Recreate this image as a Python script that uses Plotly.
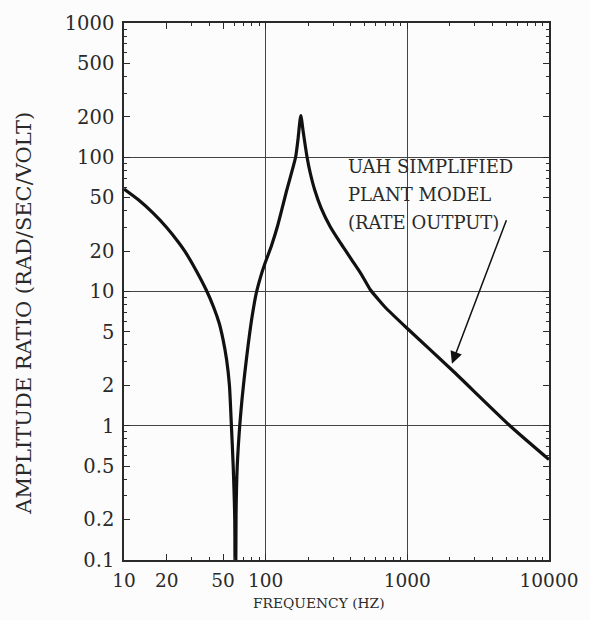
import math
import plotly.graph_objects as go

# ---- data (frequency in Hz, amplitude ratio) ----
freq_hz = [10, 12.7, 16, 20, 24.3, 27, 32, 38, 43, 47, 50, 53, 55.5, 57.3, 59,
           60.5, 61, 61.8, 63, 65.6, 68, 71, 75, 80, 86, 92, 98.5, 110, 121.6,
           141, 162.6, 169, 177, 184.5, 196, 206, 222, 246, 285, 330, 365, 405,
           470, 548, 620, 700, 1000, 2065, 5300, 10000]
amplitude = [58, 48, 38.5, 30, 23.2, 19.8, 14.6, 10.3, 7.6, 5.8, 4.4, 3.1, 2.0, 1.0, 0.5,
             0.2, 0.01, 0.22, 0.5, 1.0, 1.55, 2.4, 3.9, 6.4, 9.8, 12.8, 16, 22, 31,
             57, 100, 135, 204, 152, 100, 77, 57, 42, 30.5, 23.8, 20.3, 17.2,
             13.6, 10.3, 8.8, 7.6, 5.3, 2.6, 1.0, 0.56]

x_tick_vals = [10, 20, 50, 100, 1000, 10000]
x_tick_text = ["10", "20", "50", "100", "1000", "10000"]
y_tick_vals = [1000, 500, 200, 100, 50, 20, 10, 5, 2, 1, 0.5, 0.2, 0.1]
y_tick_text = ["1000", "500", "200", "100", "50", "20", "10", "5", "2", "1", "0.5", "0.2", "0.1"]
x_grid_vals = [100, 1000]
y_grid_vals = [100, 10, 1]

note_lines = ["UAH SIMPLIFIED", "PLANT MODEL", "(RATE OUTPUT)"]
arrow_point = (2065, 2.9)

# minor (unlabelled) tick positions: every integer multiple inside each decade
def minor_positions(lo_exp, hi_exp, labelled):
    out = []
    for e in range(lo_exp, hi_exp):
        for m in range(1, 10):
            v = m * 10 ** e
            if all(abs(v - t) > 1e-9 * max(1, t) for t in labelled):
                out.append(v)
    return out

x_minor = minor_positions(1, 4, x_tick_vals)
y_minor = minor_positions(-1, 3, y_tick_vals)

FONT = "DejaVu Serif"
INK = "#2a2a2a"

# plot-area geometry in pixels (for placing free text)
L, R, T, B = 124, 556, 14, 560
def px_to_paper(px, py):
    return (px - L) / (R - L), (B - py) / (B - T)

fig = go.Figure()
fig.add_trace(go.Scatter(x=freq_hz, y=amplitude, mode="lines",
                         line=dict(color="#111111", width=3.2, shape="spline", smoothing=0.6),
                         hoverinfo="skip", showlegend=False))
# empty trace so the overlaid grid axes get created
fig.add_trace(go.Scatter(x=[], y=[], xaxis="x2", yaxis="y2", mode="lines",
                         hoverinfo="skip", showlegend=False))

fig.update_layout(
    width=590, height=620,
    margin=dict(l=L, r=590 - R, t=T, b=620 - B),
    paper_bgcolor="#fcfcfc", plot_bgcolor="#fcfcfc",
    showlegend=False,
    xaxis=dict(type="log", range=[1, 4], tickmode="array",
               tickvals=x_tick_vals, ticktext=x_tick_text,
               ticks="inside", ticklen=6, tickwidth=1.3, tickcolor=INK,
               showline=True, linecolor=INK, linewidth=1.6, mirror="ticks",
               showgrid=False, zeroline=False,
               tickfont=dict(family=FONT, size=18.5, color=INK),
               ticklabelstandoff=3,
               minor=dict(tickmode="array", tickvals=x_minor, ticks="inside",
                          ticklen=3, tickwidth=1.2, tickcolor=INK, showgrid=False)),
    yaxis=dict(type="log", range=[-1, 3], tickmode="array",
               tickvals=y_tick_vals, ticktext=y_tick_text,
               ticks="inside", ticklen=6, tickwidth=1.3, tickcolor=INK,
               showline=True, linecolor=INK, linewidth=1.6, mirror="ticks",
               showgrid=False, zeroline=False,
               tickfont=dict(family=FONT, size=19.5, color=INK),
               ticklabelstandoff=4,
               minor=dict(tickmode="array", tickvals=y_minor, ticks="inside",
                          ticklen=3, tickwidth=1.2, tickcolor=INK, showgrid=False)),
    xaxis2=dict(type="log", range=[1, 4], overlaying="x", anchor="y", side="bottom",
                tickmode="array", tickvals=x_grid_vals, showticklabels=False,
                ticks="", showline=False, zeroline=False,
                showgrid=True, gridcolor="#444444", gridwidth=1.1),
    yaxis2=dict(type="log", range=[-1, 3], overlaying="y", anchor="x", side="left",
                tickmode="array", tickvals=y_grid_vals, showticklabels=False,
                ticks="", showline=False, zeroline=False,
                showgrid=True, gridcolor="#444444", gridwidth=1.1),
)

# axis titles
tx, ty = px_to_paper(22, 309)
fig.add_annotation(text="AMPLITUDE RATIO (RAD/SEC/VOLT)", textangle=-90,
                   xref="paper", yref="paper", x=tx, y=ty,
                   xanchor="center", yanchor="middle", showarrow=False,
                   font=dict(family=FONT, size=21, color=INK))
tx, ty = px_to_paper(322, 604)
fig.add_annotation(text="FREQUENCY (HZ)",
                   xref="paper", yref="paper", x=tx, y=ty,
                   xanchor="center", yanchor="middle", showarrow=False,
                   font=dict(family=FONT, size=13.8, color=INK))

# label lines
for i, line in enumerate(note_lines):
    tx, ty = px_to_paper(350, 160 + 28.5 * i)
    fig.add_annotation(text=line, align="left", xref="paper", yref="paper",
                       x=tx, y=ty, xanchor="left", yanchor="middle", showarrow=False,
                       font=dict(family=FONT, size=18, color=INK))
# arrow from the label to the curve
fig.add_annotation(text="", x=math.log10(arrow_point[0]), y=math.log10(arrow_point[1]),
                   xref="x", yref="y", showarrow=True, arrowhead=2, arrowsize=1.6,
                   arrowwidth=1.5, arrowcolor="#111111", ax=55, ay=-145)

fig.write_html("out.html")
